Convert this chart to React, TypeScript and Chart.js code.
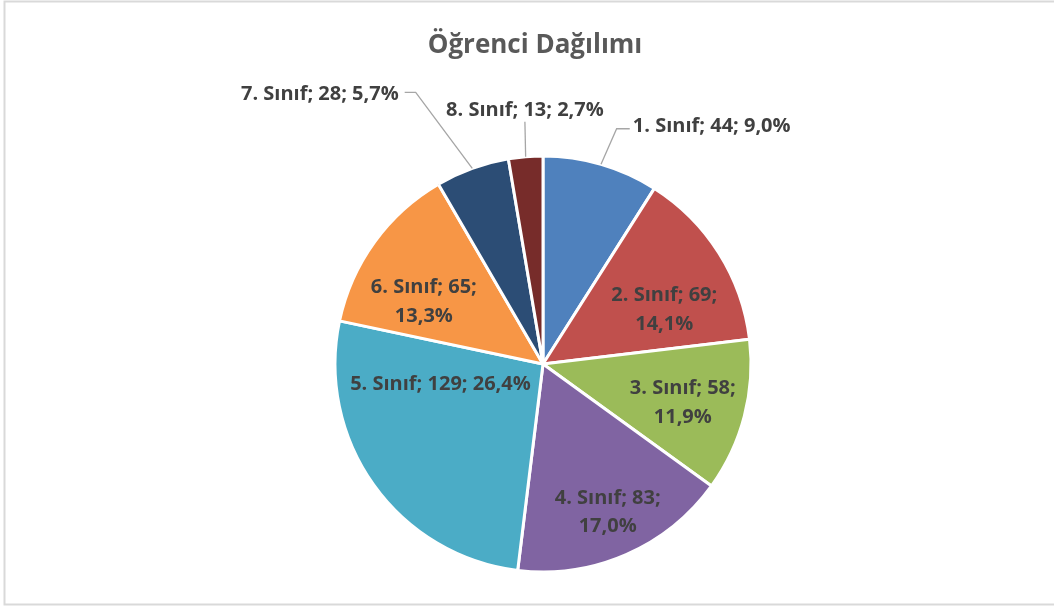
import React, { useEffect, useRef } from 'react';
import { Chart, registerables } from 'chart.js';

Chart.register(...registerables);

const TITLE = 'Öğrenci Dağılımı';
const categories = ['1. Sınıf', '2. Sınıf', '3. Sınıf', '4. Sınıf', '5. Sınıf', '6. Sınıf', '7. Sınıf', '8. Sınıf'];
const studentCounts = [44, 69, 58, 83, 129, 65, 28, 13];
const sliceColors = ['#4F81BD', '#C0504D', '#9BBB59', '#8064A2', '#4BACC6', '#F79646', '#2C4D75', '#772C2A'];

// Label placement, in units of the pie radius relative to the pie centre
type LabelPos = {
  kind: 'inside' | 'outside';
  fx: number;
  fy: number;
  wrap?: boolean;
  align?: 'left' | 'right' | 'center';
  elbow?: [number, number];
  end?: [number, number];
};
const labelLayout: LabelPos[] = [
  { kind: 'outside', align: 'left', fx: 0.432, fy: -1.15, elbow: [0.354, -1.131], end: [0.417, -1.131] },
  { kind: 'inside', fx: 0.583, fy: -0.267, wrap: true },
  { kind: 'inside', fx: 0.672, fy: 0.18, wrap: true },
  { kind: 'inside', fx: 0.311, fy: 0.706, wrap: true },
  { kind: 'inside', fx: -0.493, fy: 0.09 },
  { kind: 'inside', fx: -0.573, fy: -0.306, wrap: true },
  { kind: 'outside', align: 'right', fx: -0.694, fy: -1.306, elbow: [-0.612, -1.306], end: [-0.665, -1.306] },
  { kind: 'outside', align: 'center', fx: -0.087, fy: -1.228, elbow: [-0.087, -1.165], end: [-0.087, -1.165] },
];

const FONT = '"Open Sans", Lato, sans-serif';
const LABEL_SIZE = 20;
const LINE_H = 28.5;
const TITLE_SIZE = 26;

const fmtPct = (v: number, total: number) => (v / total * 100).toFixed(1).replace('.', ',') + '%';

const labelPlugin = {
  id: 'excelLabels',
  beforeDraw(chart: any) {
    const ctx = chart.ctx as CanvasRenderingContext2D;
    ctx.save();
    ctx.fillStyle = '#ffffff';
    ctx.fillRect(0, 0, chart.width, chart.height);
    ctx.strokeStyle = '#d9d9d9';
    ctx.lineWidth = 2;
    ctx.strokeRect(4.5, 1.5, chart.width + 10, 603);
    ctx.restore();
  },
  afterDatasetsDraw(chart: any) {
    const ctx = chart.ctx as CanvasRenderingContext2D;
    const meta = chart.getDatasetMeta(0);
    const values = chart.data.datasets[0].data as number[];
    const total = values.reduce((a, b) => a + b, 0);
    ctx.save();
    // title
    ctx.fillStyle = '#595959';
    ctx.font = `bold ${TITLE_SIZE}px ${FONT}`;
    ctx.textAlign = 'center';
    ctx.textBaseline = 'alphabetic';
    ctx.fillText(TITLE, 535, 53);

    ctx.font = `bold ${LABEL_SIZE}px ${FONT}`;
    meta.data.forEach((arc: any, i: number) => {
      const p = arc.getProps(['x', 'y', 'outerRadius', 'startAngle', 'endAngle'], true);
      const cx = p.x, cy = p.y, r = p.outerRadius;
      const lay = labelLayout[i];
      const name = chart.data.labels[i];
      const v = values[i];
      const pct = fmtPct(v, total);
      const tx = cx + lay.fx * r;
      const ty = cy + lay.fy * r;
      const baseOff = LABEL_SIZE * 0.36;
      ctx.fillStyle = '#404040';
      if (lay.kind === 'inside') {
        ctx.textAlign = 'center';
        if (lay.wrap) {
          ctx.fillText(`${name}; ${v};`, tx, ty - LINE_H / 2 + baseOff);
          ctx.fillText(pct, tx, ty + LINE_H / 2 + baseOff);
        } else {
          ctx.fillText(`${name}; ${v}; ${pct}`, tx, ty + baseOff);
        }
      } else {
        const mid = (p.startAngle + p.endAngle) / 2;
        const sx = cx + Math.cos(mid) * r;
        const sy = cy + Math.sin(mid) * r;
        ctx.strokeStyle = '#a6a6a6';
        ctx.lineWidth = 1.3;
        ctx.beginPath();
        ctx.moveTo(sx, sy);
        ctx.lineTo(cx + lay.elbow![0] * r, cy + lay.elbow![1] * r);
        ctx.lineTo(cx + lay.end![0] * r, cy + lay.end![1] * r);
        ctx.stroke();
        ctx.textAlign = lay.align || 'center';
        ctx.fillText(`${name}; ${v}; ${pct}`, tx, ty + baseOff);
      }
    });
    ctx.restore();
  },
};

export default function App() {
  const ref = useRef<HTMLCanvasElement | null>(null);
  useEffect(() => {
    document.body.style.margin = '0';
    const canvas = ref.current!;
    const chart = new Chart(canvas, {
      type: 'pie',
      data: {
        labels: categories,
        datasets: [{
          data: studentCounts,
          backgroundColor: sliceColors,
          borderColor: '#ffffff',
          borderWidth: 3,
        }],
      },
      options: {
        responsive: false,
        animation: false,
        devicePixelRatio: 1,
        radius: 208,
        layout: { padding: { left: 32, right: 0, top: 121, bottom: 0 } },
        plugins: {
          legend: { display: false },
          title: { display: false },
          tooltip: { enabled: false },
        },
      } as any,
      plugins: [labelPlugin],
    });
    return () => chart.destroy();
  }, []);
  return <canvas ref={ref} width={1054} height={607} style={{ display: 'block' }} />;
}
